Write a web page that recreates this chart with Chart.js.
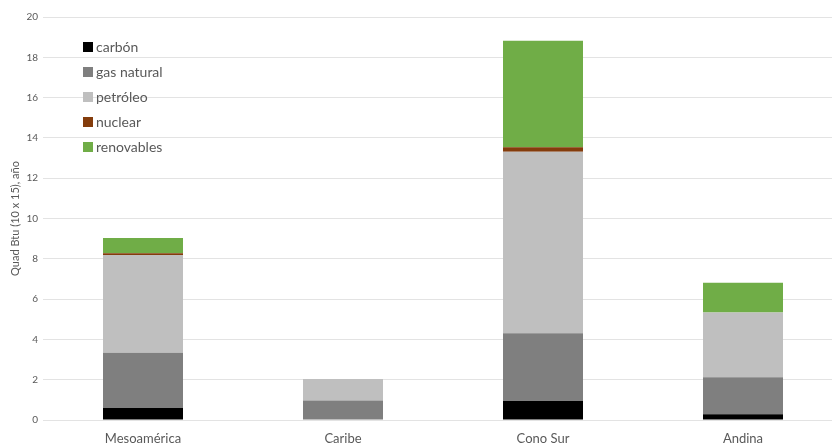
<!DOCTYPE html>
<html>
<head>
<meta charset="utf-8">
<script src="https://cdn.jsdelivr.net/npm/chart.js@4/dist/chart.umd.min.js"></script>
<style>
html,body{margin:0;padding:0;background:#fff;overflow:hidden;}
#wrap{width:846px;height:446px;position:relative;}
</style>
</head>
<body>
<div id="wrap"><canvas id="c"></canvas></div>
<script>
const categories = ['Mesoamérica', 'Caribe', 'Cono Sur', 'Andina'];
const carbon     = [0.60, 0.02, 0.94, 0.28];
const gasNatural = [2.74, 0.95, 3.36, 1.84];
const petroleo   = [4.85, 1.06, 9.01, 3.21];
const nuclear    = [0.08, 0.00, 0.22, 0.00];
const renovables = [0.76, 0.01, 5.29, 1.48];
const yTicks = [0, 2, 4, 6, 8, 10, 12, 14, 16, 18, 20];

const FONT = 'Lato, "Open Sans", sans-serif';
const TXT = '#595959';

const legendPlugin = {
  id: 'insideLegend',
  afterDraw(chart) {
    const ctx = chart.ctx;
    ctx.save();
    ctx.font = '14px ' + FONT;
    ctx.textBaseline = 'middle';
    chart.data.datasets.forEach((ds, i) => {
      const y = 47 + i * 25;
      ctx.fillStyle = ds.backgroundColor;
      ctx.fillRect(83, y - 5, 10, 10);
      ctx.fillStyle = TXT;
      ctx.fillText(ds.label, 96, y);
    });
    ctx.restore();
  }
};

new Chart(document.getElementById('c'), {
  type: 'bar',
  data: {
    labels: categories,
    datasets: [
      {label: 'carbón', data: carbon, backgroundColor: '#000000'},
      {label: 'gas natural', data: gasNatural, backgroundColor: '#7f7f7f'},
      {label: 'petróleo', data: petroleo, backgroundColor: '#bfbfbf'},
      {label: 'nuclear', data: nuclear, backgroundColor: '#843c0c'},
      {label: 'renovables', data: renovables, backgroundColor: '#70ad47'}
    ]
  },
  options: {
    responsive: true,
    maintainAspectRatio: false,
    animation: false,
    layout: {padding: {top: 17, right: 3, left: 0, bottom: 0}},
    datasets: {bar: {categoryPercentage: 1, barPercentage: 0.4, borderWidth: 0}},
    plugins: {legend: {display: false}, tooltip: {enabled: false}},
    scales: {
      x: {
        stacked: true,
        grid: {display: false},
        border: {display: false},
        ticks: {color: TXT, font: {family: FONT, size: 13}, padding: 3, maxRotation: 0},
        afterFit(s) { s.height = 26; }
      },
      y: {
        stacked: true,
        min: 0, max: 20,
        afterBuildTicks(s) { s.ticks = yTicks.map(v => ({value: v})); },
        grid: {color: '#e3e3e3', lineWidth: 1, drawTicks: false},
        border: {display: false},
        ticks: {color: TXT, font: {family: FONT, size: 10}, padding: 5},
        title: {display: true, text: 'Quad Btu (10 x 15), año', color: TXT, font: {family: FONT, size: 11}, padding: {top: 9, bottom: 0}},
        afterFit(s) { s.width = 43; }
      }
    }
  },
  plugins: [legendPlugin]
});
</script>
</body>
</html>
